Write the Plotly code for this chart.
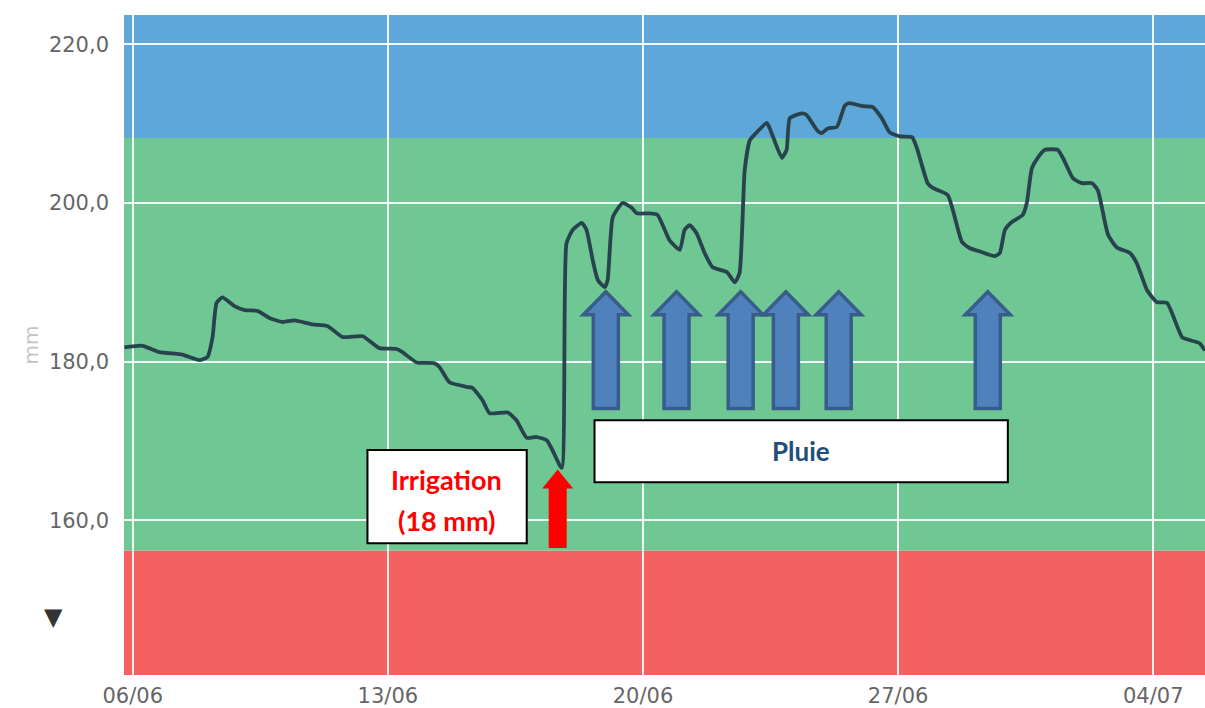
import plotly.graph_objects as go

# ---- data ----
# day offset from 06/06 00:00
days = [-0.23, 0.27, 0.73, 1.36, 1.83, 2.05, 2.19, 2.30, 2.46, 2.79, 3.07, 3.42, 3.75, 4.11,
        4.44, 4.93, 5.34, 5.76, 6.31, 6.77, 7.24, 7.40, 7.79, 8.28, 8.42, 8.69, 9.19, 9.32,
        9.60, 9.79, 10.29, 10.53, 10.81, 11.08, 11.36, 11.52, 11.77, 11.90, 12.07, 12.32,
        12.45, 12.62, 12.76, 12.95, 13.03, 13.17, 13.44, 13.69, 13.83, 14.18, 14.40, 14.73,
        15.01, 15.14, 15.28, 15.47, 15.69, 15.91, 16.30, 16.52, 16.65, 16.79, 16.93, 17.12,
        17.40, 17.53, 17.81, 17.94, 18.03, 18.36, 18.49, 18.77, 18.90, 19.07, 19.32, 19.54,
        19.67, 20.03, 20.30, 20.55, 20.77, 21.05, 21.38, 21.51, 21.81, 21.95, 22.36, 22.75,
        22.97, 23.24, 23.65, 23.79, 23.93, 24.12, 24.42, 24.53, 24.67, 24.83, 25.03, 25.38,
        25.52, 25.80, 26.04, 26.32, 26.48, 26.76, 27.00, 27.36, 27.55, 27.83, 28.10, 28.38,
        28.79, 29.01, 29.28, 29.42]
reserve_mm = [181.8, 182.0, 181.2, 180.9, 180.2, 180.6, 183.1, 187.4, 188.1, 187.0, 186.5,
              186.4, 185.5, 185.0, 185.2, 184.7, 184.5, 183.1, 183.2, 181.7, 181.6, 181.2,
              179.9, 179.8, 179.3, 177.4, 176.8, 176.7, 175.1, 173.5, 173.6, 172.6, 170.4,
              170.5, 170.1, 168.8, 166.6, 194.9, 196.6, 197.5, 196.6, 192.8, 190.3, 189.4,
              190.3, 198.2, 200.0, 199.4, 198.7, 198.7, 198.5, 195.3, 194.1, 196.6, 197.2,
              196.2, 193.7, 191.9, 191.3, 190.0, 191.2, 204.1, 207.9, 208.9, 210.1, 208.8,
              205.7, 206.7, 210.7, 211.3, 211.1, 209.2, 208.8, 209.4, 209.6, 212.3, 212.6,
              212.2, 212.1, 210.7, 208.9, 208.4, 208.3, 207.0, 202.5, 201.9, 201.0, 195.1,
              194.3, 193.9, 193.3, 193.7, 196.6, 197.6, 198.5, 200.0, 204.4, 205.7, 206.7,
              206.7, 205.7, 203.1, 202.5, 202.5, 201.6, 196.0, 194.4, 193.7, 192.4, 189.0,
              187.5, 187.4, 183.1, 182.7, 182.3, 181.4]

tick_days = [0, 7, 14, 21, 28]
tick_labels = ["06/06", "13/06", "20/06", "27/06", "04/07"]
y_ticks = [160, 180, 200, 220]
y_tick_labels = ["160,0", "180,0", "200,0", "220,0"]

zone_low = 156.2     # red / green limit
zone_high = 208.2    # green / blue limit

rain_days = [12.98, 14.92, 16.68, 17.92, 19.37, 23.46]
irrigation_day = 11.66
irrigation_label = ["Irrigation", "(18 mm)"]
rain_label = "Pluie"

# ---- figure ----
X0, X1 = -0.24, 29.42
Y0, Y1 = 140.5, 223.7

fig = go.Figure()

shapes = []
# zone bands
for ya, yb, col in [(Y0, zone_low, "#F45F5F"), (zone_low, zone_high, "#6FC794"), (zone_high, Y1, "#5DA7D9")]:
    shapes.append(dict(type="rect", xref="x", yref="y", x0=X0, x1=X1, y0=ya, y1=yb,
                       fillcolor=col, line_width=0, layer="below"))


def arrow_path(c, bottom, base, tip, sw, hw):
    return (f"M {c-sw},{bottom} L {c-sw},{base} L {c-hw},{base} L {c},{tip} "
            f"L {c+hw},{base} L {c+sw},{base} L {c+sw},{bottom} Z")


for d in rain_days:
    shapes.append(dict(type="path", xref="x", yref="y",
                       path=arrow_path(d, 174.1, 185.9, 188.8, 0.343, 0.618),
                       fillcolor="#4F81BD", line=dict(color="#385D8A", width=3.5), layer="above"))

shapes.append(dict(type="path", xref="x", yref="y",
                   path=arrow_path(irrigation_day, 156.5, 164.0, 166.4, 0.247, 0.425),
                   fillcolor="#FF0000", line=dict(width=0), layer="above"))

# label boxes
shapes.append(dict(type="rect", xref="x", yref="y", x0=6.44, x1=10.81, y0=157.1, y1=168.85,
                   fillcolor="white", line=dict(color="black", width=2), layer="above"))
shapes.append(dict(type="rect", xref="x", yref="y", x0=12.67, x1=24.01, y0=164.8, y1=172.6,
                   fillcolor="white", line=dict(color="black", width=2), layer="above"))

fig.add_trace(go.Scatter(x=days, y=reserve_mm, mode="lines",
                         line=dict(color="#29434E", width=3.8, shape="spline", smoothing=0.5),
                         hoverinfo="skip", showlegend=False))

annotations = [
    dict(x=8.62, y=165.2, xref="x", yref="y", text=irrigation_label[0], showarrow=False,
         font=dict(family="Lato", size=27, color="#FF0000", weight="bold")),
    dict(x=8.62, y=160.0, xref="x", yref="y", text=irrigation_label[1], showarrow=False,
         font=dict(family="Lato", size=27, color="#FF0000", weight="bold")),
    dict(x=18.34, y=168.7, xref="x", yref="y", text=rain_label, showarrow=False,
         font=dict(family="Lato", size=26, color="#1F4E79", weight="bold")),
    dict(x=-0.0986, y=0.5, xref="paper", yref="paper", text="mm", textangle=-90, showarrow=False,
         font=dict(family="DejaVu Sans", size=20, color="#C4C4C4")),
    dict(x=-0.076, y=0.063, xref="paper", yref="paper", text="▼", showarrow=False,
         font=dict(family="DejaVu Sans", size=24, color="#333333")),
]

fig.update_layout(
    width=1205, height=708,
    margin=dict(l=124, r=0, t=15, b=33),
    paper_bgcolor="white", plot_bgcolor="white",
    shapes=shapes, annotations=annotations,
    showlegend=False,
    xaxis=dict(range=[X0, X1], tickmode="array", tickvals=tick_days, ticktext=tick_labels,
               showgrid=True, gridcolor="rgba(255,255,255,0.9)", gridwidth=2,
               zeroline=False, showline=False, ticks="", ticklabelstandoff=6,
               tickfont=dict(family="DejaVu Sans", size=21, color="#666666")),
    yaxis=dict(range=[Y0, Y1], tickmode="array", tickvals=y_ticks, ticktext=y_tick_labels,
               showgrid=True, gridcolor="rgba(255,255,255,0.9)", gridwidth=2,
               zeroline=False, showline=False, ticks="", ticklabelstandoff=14,
               tickfont=dict(family="DejaVu Sans", size=21, color="#666666")),
)

fig.write_html("out.html", config={"displayModeBar": False},
               post_script="document.body.style.margin='0';")
